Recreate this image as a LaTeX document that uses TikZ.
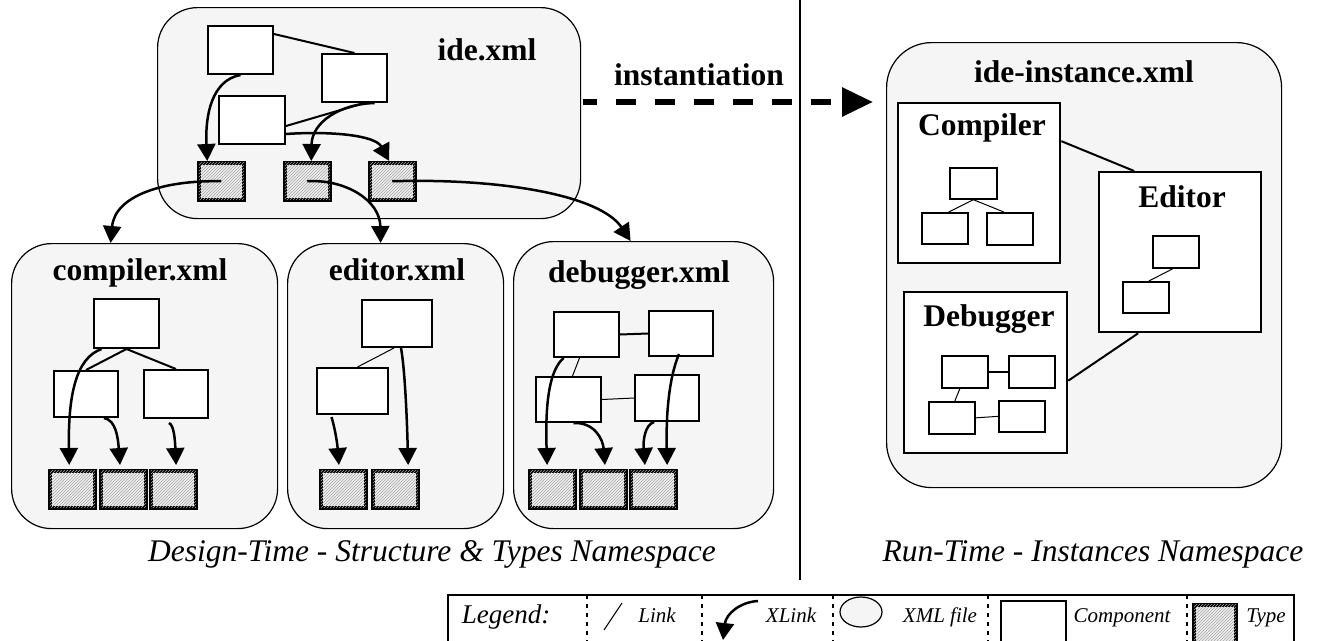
\documentclass[tikz,border=0pt]{standalone}
\usepackage{fontspec}
\setmainfont{Liberation Serif}
\usetikzlibrary{arrows.meta,patterns,shapes.geometric}
\definecolor{xmlfill}{HTML}{F5F5F5}
\newcommand{\myBold}{\fontsize{31.5}{36}\selectfont\bfseries}
\newcommand{\myCap}{\fontsize{31.5}{36}\selectfont\itshape}
\newcommand{\myLeg}{\fontsize{21}{25}\selectfont\itshape}
\tikzset{
  xmlfile/.style={draw, line width=1.2pt, fill=xmlfill, rounded corners=40pt, inner sep=0pt, anchor=north west},
  comp/.style={draw, line width=2pt, fill=white, inner sep=0pt, anchor=north west},
  scomp/.style={draw, line width=1.7pt, fill=white, inner sep=0pt, anchor=north west},
  typebox/.style={draw, line width=3.5pt, fill=gray!12, postaction={pattern=north east lines, pattern color=gray!70}, inner sep=0pt, anchor=north west, minimum width=45pt, minimum height=37pt},
  link/.style={line width=2pt},
  thinlink/.style={line width=1pt},
  xlink/.style={line width=2.5pt, -{Triangle[length=17pt,width=18pt]}},
  title/.style={font=\myBold, inner sep=0pt, anchor=base},
  capt/.style={font=\myCap, inner sep=0pt, anchor=base},
  legtext/.style={font=\myLeg, inner sep=0pt, anchor=base},
  sep/.style={line width=1.5pt, dash pattern=on 4pt off 5pt},
}
\begin{document}
\begin{tikzpicture}[x=1pt, y=-1pt]
\path[use as bounding box] (0,0) rectangle (1320,640);
\clip (0,0) rectangle (1320,640);

% ---------------- ide.xml ----------------
\node[xmlfile, minimum width=423pt, minimum height=211pt] (ide) at (157,7) {};
\node[title] (idelbl) at (487,60) {ide.xml};
\node[comp, minimum width=65pt, minimum height=48pt] (ic1) at (207,25) {};
\node[comp, minimum width=65pt, minimum height=48pt] (ic2) at (321,53) {};
\node[comp, minimum width=66pt, minimum height=48pt] (ic3) at (218,95) {};
\node[typebox] (it1) at (197,161) {};
\node[typebox] (it2) at (283,161) {};
\node[typebox] (it3) at (368,161) {};
\draw[link] ([yshift=16pt]ic1.east) -- (ic2.north);
\draw[link] ([yshift=-6pt]ic3.east) -- ([xshift=10pt]ic2.south);
\draw[xlink] (ic1.south) .. controls (212,80) and (205,115) .. ([xshift=-14pt]it1.north);
\draw[xlink] ([xshift=20pt]ic2.south) .. controls (340,104) and (312,122) .. ([xshift=4pt]it2.north);
\draw[xlink] ([yshift=-14pt]ic3.east) .. controls (330,131) and (375,135) .. ([xshift=-3pt]it3.north);

% ---------------- compiler.xml ----------------
\node[xmlfile, minimum width=266pt, minimum height=285pt] (compx) at (11,243) {};
\node[title] (complbl) at (140,280) {compiler.xml};
\node[comp, minimum width=65pt, minimum height=49pt] (cc1) at (93,298) {};
\node[comp, minimum width=64pt, minimum height=46pt] (cc2) at (53,370) {};
\node[comp, minimum width=64pt, minimum height=48pt] (cc3) at (143,369) {};
\node[typebox] (ct1) at (48,469) {};
\node[typebox] (ct2) at (99,469) {};
\node[typebox] (ct3) at (149,469) {};
\draw[link] (cc1.south) -- (cc2.north);
\draw[link] (cc1.south) -- (cc3.north);
\draw[xlink, shorten >=4pt] ([xshift=-25pt]cc1.south) .. controls (76,358) and (68,395) .. ([xshift=-3pt]ct1.north);
\draw[xlink, shorten >=4pt] ([xshift=18pt]cc2.south) .. controls (116,420) and (118,438) .. ([xshift=-3pt]ct2.north);
\draw[xlink, shorten >=4pt] ([xshift=-7pt,yshift=-4pt]cc3.south) .. controls (174,425) and (175,440) .. ([xshift=3pt]ct3.north);

% ---------------- editor.xml ----------------
\node[xmlfile, minimum width=216pt, minimum height=285pt] (editx) at (287,243) {};
\node[title] (editlbl) at (397,280) {editor.xml};
\node[comp, minimum width=70pt, minimum height=47pt] (ec1) at (361,299) {};
\node[comp, minimum width=71pt, minimum height=46pt] (ec2) at (316,367) {};
\node[typebox] (et1) at (319,469) {};
\node[typebox] (et2) at (371,469) {};
\draw[thinlink] ([xshift=-3pt]ec1.south) -- ([xshift=5pt]ec2.north);
\draw[xlink, shorten >=4pt] ([xshift=-21pt,yshift=-2pt]ec2.south) .. controls (334,425) and (337,440) .. ([xshift=-4pt]et1.north);
\draw[xlink, shorten >=4pt] ([xshift=4pt]ec1.south) .. controls (405,370) and (407,420) .. ([xshift=13pt]et2.north);

% ---------------- debugger.xml ----------------
\node[xmlfile, minimum width=260pt, minimum height=287pt] (debx) at (513,241) {};
\node[title] (deblbl) at (639,282) {debugger.xml};
\node[comp, minimum width=65pt, minimum height=45pt] (dc1) at (553,311) {};
\node[comp, minimum width=64pt, minimum height=45pt] (dc2) at (648,310) {};
\node[comp, minimum width=65pt, minimum height=45pt] (dc3) at (535,376) {};
\node[comp, minimum width=64pt, minimum height=46pt] (dc4) at (634,374) {};
\node[typebox] (dt1) at (528,469) {};
\node[typebox] (dt2) at (579,469) {};
\node[typebox] (dt3) at (629,469) {};
\draw[link] (dc1.east) -- (dc2.west);
\draw[thinlink] ([xshift=-7pt]dc1.south) -- ([xshift=4pt]dc3.north);
\draw[thinlink] (dc3.east) -- (dc4.west);
\draw[xlink, shorten >=4pt] ([xshift=-23pt]dc1.south) .. controls (550,370) and (545,400) .. ([xshift=-5pt]dt1.north);
\draw[xlink, shorten >=4pt] ([xshift=5pt]dc3.south) .. controls (595,422) and (603,440) .. ([xshift=2pt]dt2.north);
\draw[xlink, shorten >=4pt] ([xshift=-13pt]dc4.south) .. controls (645,425) and (643,440) .. ([xshift=-8pt]dt3.north);
\draw[xlink, shorten >=4pt] ([xshift=-2pt,yshift=3pt]dc2.south) .. controls (668,380) and (666,420) .. ([xshift=14pt]dt3.north);

% ---------------- links from ide types ----------------
\draw[xlink] (it1.center) .. controls (165,180) and (115,195) .. ([xshift=-34pt]compx.north);
\draw[xlink] (it2.center) .. controls (345,179) and (380,200) .. ([xshift=-15pt]editx.north);
\draw[xlink] (it3.center) .. controls (500,178) and (600,195) .. ([xshift=-13pt]debx.north);

% ---------------- instantiation ----------------
\coordinate (instS) at (583,102);
\coordinate (instE) at (873,102);
\draw[line width=6pt, dash pattern=on 20pt off 19pt, dash phase=6pt, -{Triangle[length=31pt,width=28pt]}] (instS) -- (instE);
\node[title] (instlbl) at (699,85) {instantiation};

% separator
\coordinate (vsT) at (800,0);
\coordinate (vsB) at (800,580);
\draw[line width=2.5pt] (vsT) -- (vsB);

% ---------------- ide-instance.xml ----------------
\node[xmlfile, rounded corners=45pt, minimum width=395pt, minimum height=445pt] (inst) at (886,42) {};
\node[title] (instxlbl) at (1084,82) {ide-instance.xml};

\node[comp, line width=2.3pt, minimum width=162pt, minimum height=160pt] (rcomp) at (897,102) {};
\node[title] (rcomplbl) at (982,135) {Compiler};
\node[scomp, minimum width=47pt, minimum height=31pt] (rcc1) at (949,167) {};
\node[scomp, minimum width=46pt, minimum height=31pt] (rcc2) at (921,212) {};
\node[scomp, minimum width=46pt, minimum height=32pt] (rcc3) at (986,212) {};
\draw[thinlink] (rcc1.south) -- ([xshift=4pt]rcc2.north);
\draw[thinlink] (rcc1.south) -- ([xshift=-6pt]rcc3.north);

\node[comp, line width=2.3pt, minimum width=162pt, minimum height=160pt] (redit) at (1098,171) {};
\node[title] (reditlbl) at (1182,207) {Editor};
\node[scomp, minimum width=46pt, minimum height=32pt] (rec1) at (1152,235) {};
\node[scomp, minimum width=46pt, minimum height=31pt] (rec2) at (1122,281) {};
\draw[thinlink] ([xshift=-3pt]rec1.south) -- ([xshift=3pt]rec2.north);

\node[comp, line width=2.3pt, minimum width=163pt, minimum height=161pt] (rdeb) at (903,291) {};
\node[title] (rdeblbl) at (989,326) {Debugger};
\node[scomp, minimum width=46pt, minimum height=32pt] (rdc1) at (941,355) {};
\node[scomp, minimum width=46pt, minimum height=32pt] (rdc2) at (1008,355) {};
\node[scomp, minimum width=46pt, minimum height=32pt] (rdc3) at (928,401) {};
\node[scomp, minimum width=46pt, minimum height=31pt] (rdc4) at (998,400) {};
\draw[line width=1.5pt] (rdc1.east) -- (rdc2.west);
\draw[thinlink] ([xshift=-5pt]rdc1.south) -- ([xshift=3pt]rdc3.north);
\draw[thinlink] (rdc3.east) -- (rdc4.west);

\draw[link] ([yshift=42pt]rcomp.east) -- ([xshift=-46pt]redit.north);
\draw[link] ([xshift=-42pt]redit.south) -- ([yshift=-8pt]rdeb.east);

% ---------------- captions ----------------
\node[capt] (capL) at (432,561) {Design-Time - Structure \& Types Namespace};
\node[capt] (capR) at (1093,561) {Run-Time - Instances Namespace};

% ---------------- legend ----------------
\node[draw, line width=2.2pt, inner sep=0pt, anchor=north west, minimum width=846pt, minimum height=60pt] (leg) at (447,594) {};
\foreach \sx [count=\i] in {587,702,833,988,1187} {
  \coordinate (sepT\i) at (\sx,595);
  \coordinate (sepB\i) at (\sx,642);
  \draw[sep] (sepT\i) -- (sepB\i);
}
\node[legtext, font=\fontsize{27}{30}\selectfont\itshape] (legLbl) at (506,623) {Legend:};
\coordinate (ls1) at (622,603);
\coordinate (ls2) at (604,630);
\draw[line width=1pt] (ls1) -- (ls2);
\node[legtext] (legLink) at (657,622) {Link};
\coordinate (lx1) at (758,601);
\coordinate (lx2) at (723,640);
\draw[xlink] (lx1) .. controls (740,602) and (726,614) .. (lx2);
\node[legtext] (legXLink) at (791,622) {XLink};
\node[ellipse, draw, line width=1.2pt, fill=xmlfill, minimum width=42pt, minimum height=30pt, inner sep=0pt] (legXml) at (861,612) {};
\node[legtext] (legXmlT) at (940,622) {XML file};
\node[comp, minimum width=65pt, minimum height=48pt] (legComp) at (1000,600) {};
\node[legtext] (legCompT) at (1122,622) {Component};
\node[typebox, minimum width=42pt, minimum height=42pt] (legType) at (1192,603) {};
\node[legtext] (legTypeT) at (1266,622) {Type};
\end{tikzpicture}
\end{document}
